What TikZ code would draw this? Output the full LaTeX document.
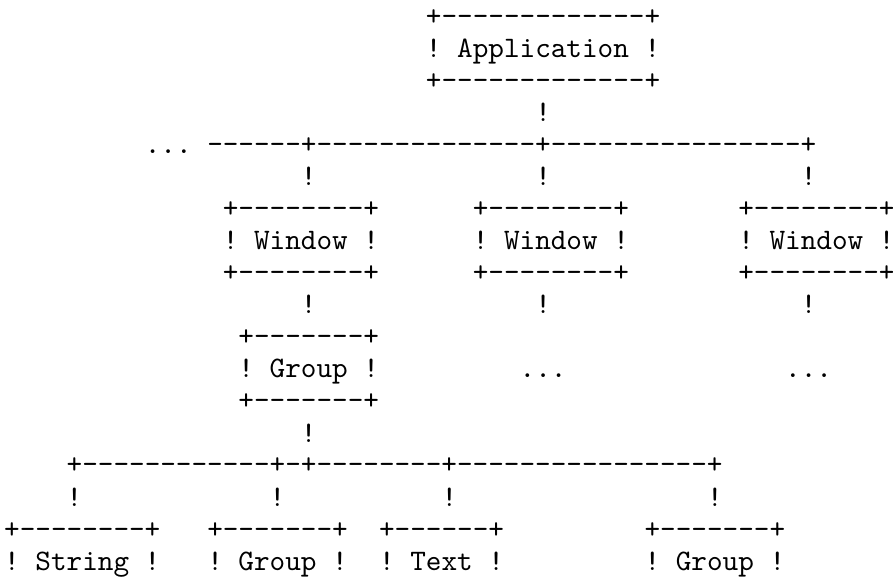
\documentclass[tikz,border=0pt]{standalone}
\usepackage{fontspec}
\setmonofont{lmmono10-regular.otf}
\tikzset{
  asc/.style={anchor=base west, inner sep=0pt, outer sep=0pt,
    font=\ttfamily\fontsize{22.31}{24}\selectfont\frenchspacing},
}
\newcommand\cw{15.62}
\newcommand\cx{4.19}
% \PL{name}{column}{row}{text}
\newcommand\PL[4]{\node[asc] (#1) at ({\cx+#2*\cw},{26+32*#3}) {#4};}
\begin{document}
\begin{tikzpicture}[x=0.75pt,y=-0.75pt]
\useasboundingbox (0,0) rectangle (893,577);
% Application
\PL{appT}{27}{0}{+-------------+}
\PL{appM}{27}{1}{! Application !}
\PL{appB}{27}{2}{+-------------+}
\PL{appC}{34}{3}{!}
% top bus
\PL{busDots}{9}{4}{...}
\PL{busTop}{13}{4}{------+--------------+----------------+}
\PL{wAc}{19}{5}{!}
\PL{wBc}{34}{5}{!}
\PL{wCc}{51}{5}{!}
% windows
\PL{wAT}{14}{6}{+--------+}
\PL{wBT}{30}{6}{+--------+}
\PL{wCT}{47}{6}{+--------+}
\PL{wAM}{14}{7}{! Window !}
\PL{wBM}{30}{7}{! Window !}
\PL{wCM}{47}{7}{! Window !}
\PL{wAB}{14}{8}{+--------+}
\PL{wBB}{30}{8}{+--------+}
\PL{wCB}{47}{8}{+--------+}
\PL{wAd}{19}{9}{!}
\PL{wBd}{34}{9}{!}
\PL{wCd}{51}{9}{!}
% group
\PL{gT}{15}{10}{+-------+}
\PL{gM}{15}{11}{! Group !}
\PL{dotsB}{33}{11}{...}
\PL{dotsC}{50}{11}{...}
\PL{gB}{15}{12}{+-------+}
\PL{gd}{19}{13}{!}
% bottom bus
\PL{busBot}{4}{14}{+------------+-+--------+----------------+}
\PL{sc}{4}{15}{!}
\PL{g2c}{17}{15}{!}
\PL{tc}{28}{15}{!}
\PL{g3c}{45}{15}{!}
% leaves
\PL{sT}{0}{16}{+--------+}
\PL{g2T}{13}{16}{+-------+}
\PL{tT}{24}{16}{+------+}
\PL{g3T}{41}{16}{+-------+}
\PL{sM}{0}{17}{! String !}
\PL{g2M}{13}{17}{! Group !}
\PL{tM}{24}{17}{! Text !}
\PL{g3M}{41}{17}{! Group !}
\end{tikzpicture}
\end{document}
